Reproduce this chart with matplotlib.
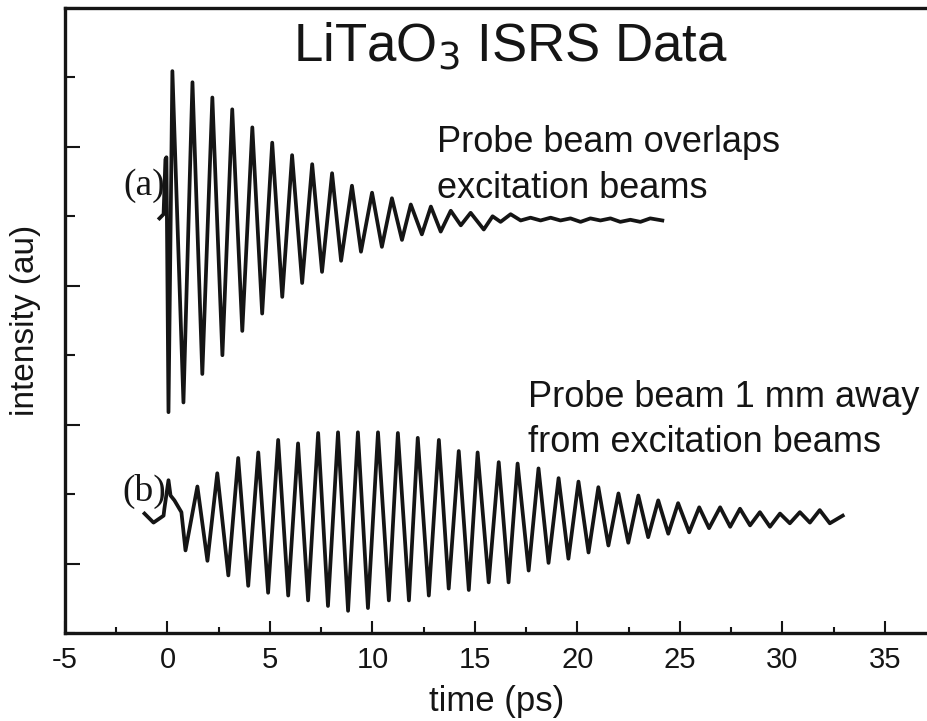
import matplotlib.pyplot as plt
from matplotlib.ticker import MultipleLocator

# trace (a): probe overlaps excitation beams
t_a = [-0.39, -0.19, -0.10, -0.05, 0.05, 0.24, 0.78, 1.22, 1.70, 2.19, 2.68, 3.16,
       3.65, 4.14, 4.62, 5.11, 5.60, 6.08, 6.57, 7.06, 7.54, 8.03, 8.47, 9.00,
       9.44, 9.98, 10.46, 10.95, 11.44, 11.87, 12.41, 12.85, 13.33, 13.82, 14.31,
       14.79, 15.43, 15.86, 16.25, 16.74, 17.23, 17.71, 18.20, 18.69, 19.17,
       19.66, 20.15, 20.63, 21.12, 21.61, 22.09, 22.58, 23.07, 23.55, 24.14]
i_a = [4.97, 5.03, 5.82, 5.85, 2.18, 7.09, 2.32, 6.93, 2.73, 6.71, 3.00, 6.54,
       3.35, 6.28, 3.60, 6.06, 3.84, 5.88, 4.04, 5.75, 4.20, 5.62, 4.36, 5.44,
       4.49, 5.34, 4.56, 5.26, 4.66, 5.17, 4.74, 5.14, 4.78, 5.08, 4.87,
       5.05, 4.81, 5.00, 4.92, 5.03, 4.94, 4.98, 4.94, 4.98, 4.94,
       4.97, 4.92, 4.97, 4.94, 4.97, 4.92, 4.95, 4.92, 4.97, 4.94]

# trace (b): probe 1 mm away
t_b = [-1.12, -0.68, -0.19, -0.15, 0.05, 0.15, 0.34, 0.54, 0.68, 0.88, 1.46, 1.95,
       2.43, 2.97, 3.45, 3.94, 4.43, 4.91, 5.40, 5.89, 6.37, 6.86, 7.35, 7.83,
       8.32, 8.81, 9.29, 9.78, 10.27, 10.80, 11.24, 11.78, 12.21, 12.75, 13.24,
       13.72, 14.21, 14.70, 15.13, 15.67, 16.16, 16.64, 17.08, 17.62, 18.10,
       18.59, 19.08, 19.56, 20.05, 20.54, 21.02, 21.51, 22.00, 22.48, 22.97,
       23.45, 23.94, 24.43, 24.91, 25.45, 25.94, 26.42, 26.96, 27.45, 27.93,
       28.42, 28.90, 29.39, 29.88, 30.36, 30.85, 31.34, 31.82, 32.31, 32.94]
i_b = [0.72, 0.59, 0.69, 0.79, 1.20, 0.98, 0.91, 0.81, 0.74, 0.19, 1.11, 0.04,
       1.30, -0.17, 1.52, -0.32, 1.60, -0.42, 1.78, -0.46, 1.73, -0.53, 1.88, -0.61,
       1.89, -0.68, 1.89, -0.64, 1.89, -0.53, 1.88, -0.53, 1.81, -0.46, 1.78,
       -0.36, 1.62, -0.38, 1.60, -0.27, 1.46, -0.27, 1.44, -0.10, 1.37,
       0.01, 1.23, 0.07, 1.18, 0.16, 1.10, 0.26, 1.01, 0.30, 0.98,
       0.38, 0.91, 0.43, 0.87, 0.45, 0.81, 0.51, 0.81, 0.53, 0.79,
       0.55, 0.74, 0.53, 0.72, 0.58, 0.74, 0.59, 0.77, 0.58, 0.69]

plt.rcParams['font.family'] = ['Liberation Sans', 'DejaVu Sans']
plt.rcParams['axes.unicode_minus'] = False
ink = '#151515'

fig = plt.figure(figsize=(9.28, 7.21), dpi=100)
ax = fig.add_axes([0.070, 0.122, 0.930, 0.867])

ax.plot(t_a, i_a, color=ink, lw=2.7, solid_joinstyle='round')
ax.plot(t_b, i_b, color=ink, lw=2.7, solid_joinstyle='round')

ax.set_xlim(-5, 37.1)
ax.set_ylim(-1, 8)
ax.xaxis.set_major_locator(MultipleLocator(5))
ax.xaxis.set_minor_locator(MultipleLocator(2.5))
ax.yaxis.set_major_locator(MultipleLocator(2))
ax.yaxis.set_minor_locator(MultipleLocator(1))
ax.set_yticklabels([])
ax.tick_params(axis='x', which='major', direction='in', length=8.5, width=1.5,
               labelsize=21, pad=9, colors=ink)
ax.tick_params(axis='x', which='minor', direction='in', length=4.3, width=1.5, colors=ink)
ax.tick_params(axis='y', which='major', direction='in', length=10.8, width=1.5, colors=ink)
ax.tick_params(axis='y', which='minor', direction='in', length=7.2, width=1.5, colors=ink)
ax.spines['right'].set_visible(False)
for s in ('left', 'bottom', 'top'):
    ax.spines[s].set_linewidth(2.4)
    ax.spines[s].set_color(ink)

ax.set_xlabel('time (ps)', fontsize=25, color=ink, labelpad=8)
ax.set_ylabel('intensity (au)', fontsize=24, color=ink, labelpad=14)

ax.text(16.74, 7.23, r'LiTaO$_3$ ISRS Data', fontsize=38, ha='center', va='baseline', color=ink)
ax.text(13.14, 5.92, 'Probe beam overlaps', fontsize=26, va='baseline', color=ink)
ax.text(13.14, 5.27, 'excitation beams', fontsize=26, va='baseline', color=ink)
ax.text(17.57, 2.25, 'Probe beam 1 mm away', fontsize=26, va='baseline', color=ink)
ax.text(17.57, 1.60, 'from excitation beams', fontsize=26, va='baseline', color=ink)
ax.text(-2.14, 5.31, '(a)', fontsize=27, family='Liberation Serif', va='baseline', color=ink)
ax.text(-2.19, 0.91, '(b)', fontsize=27, family='Liberation Serif', va='baseline', color=ink)

fig.savefig('out.png', dpi=100)
